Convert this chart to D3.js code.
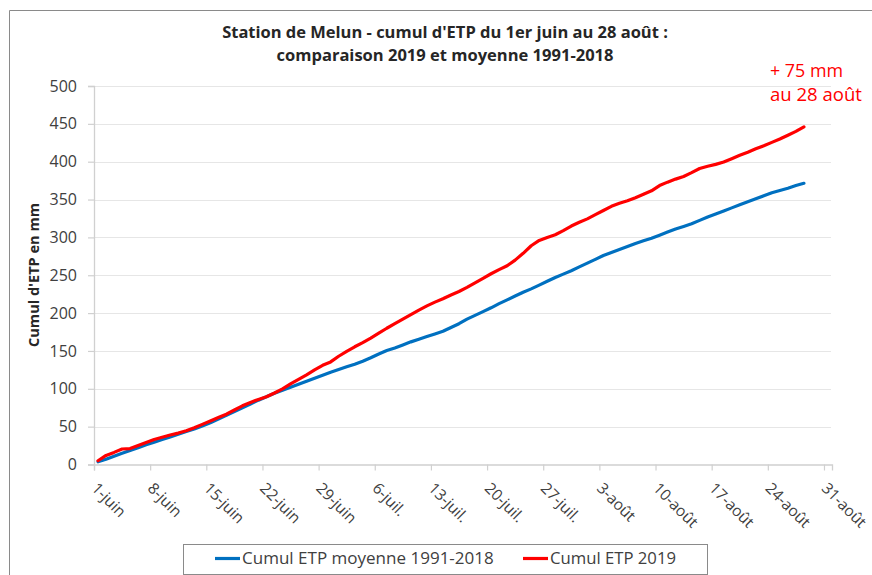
<!DOCTYPE html>
<html><head><meta charset="utf-8">
<script src="https://cdn.jsdelivr.net/npm/d3@7"></script>
<style>
body{margin:0;background:#fff}
svg{display:block}
text{font-family:"Open Sans",sans-serif}
</style>
</head><body>
<svg id="chart" width="872" height="575"></svg>
<script>
const titleLines = ["Station de Melun - cumul d'ETP du 1er juin au 28 août :", "comparaison 2019 et moyenne 1991-2018"];
const yAxisTitle = "Cumul d'ETP en mm";
const annotationLines = ["+ 75 mm", "au 28 août"];
const seriesNames = ["Cumul ETP moyenne 1991-2018", "Cumul ETP 2019"];
const startDate = Date.UTC(2019, 5, 1);
const endDate = Date.UTC(2019, 8, 1);
const yTicks = [0, 50, 100, 150, 200, 250, 300, 350, 400, 450, 500];
const xTickLabels = ["1-juin","8-juin","15-juin","22-juin","29-juin","6-juil.","13-juil.","20-juil.","27-juil.","3-août","10-août","17-août","24-août","31-août"];

// daily cumulative ETP (mm), 1 June -> 28 August
const etpMoyenne = [
  3.5, 7, 11, 15, 18.5, 22, 26, 29.5, 33, 36.5,
  40, 43.5, 47, 51, 55, 60, 65, 70, 75, 80,
  85, 89.5, 94, 98, 102, 106, 110, 114, 118, 122,
  125.5, 129, 132.5, 136.5, 141, 146, 150.5, 154, 158, 162,
  165.5, 169, 172.5, 176, 181, 186, 192, 197, 202, 207,
  212.5, 217.5, 222.5, 227.5, 232, 237, 242, 247, 251.5, 256,
  261, 266, 271, 276, 280, 284, 288, 292, 295.5, 299,
  303, 307, 311, 314.5, 318, 322.5, 327, 331, 335, 339,
  343, 347, 351, 355, 359, 362, 365, 368.5, 371.5
];
const etp2019 = [
  5, 12, 16, 20.5, 21, 25, 29, 33, 36, 39,
  41.5, 44.5, 48.5, 53, 57.5, 62, 66.5, 72, 77.5, 82,
  86, 89.5, 94.5, 100, 106.5, 112.5, 118.5, 125, 131, 135.5,
  143, 149.5, 155.5, 161, 167, 173.5, 180, 186, 192, 198,
  204, 209.5, 214.5, 219, 224, 228.5, 234, 240, 246, 252,
  257.5, 262.5, 270, 279, 289, 296, 300, 303.5, 309, 315,
  320, 324.5, 330, 335.5, 341, 345, 348.5, 352.5, 357, 361.5,
  368.5, 373, 377, 380.5, 385.5, 391, 394, 396.5, 399.5, 404,
  408.5, 412.5, 417, 421, 425.5, 430, 435, 440, 446
];

const DAY = 86400000;
const svg = d3.select("#chart");
const ink = "#404040";

function fit(sel, target) {
  const L = sel.node().getComputedTextLength();
  const fs = parseFloat(sel.attr("font-size"));
  sel.attr("font-size", (fs * target / L).toFixed(2));
  return sel;
}

// outer frame
svg.append("path").attr("d", "M9.5,575 V10.5 H872").attr("fill", "none").attr("stroke", "#8a8a8a").attr("stroke-width", 1);

const x = d3.scaleUtc().domain([new Date(startDate), new Date(endDate)]).range([94, 832]);
const y = d3.scaleLinear().domain([0, 500]).range([464.5, 86]);

// grid
svg.append("g").selectAll("line").data(yTicks.filter(v => v > 0)).join("line")
  .attr("x1", 94).attr("x2", 831).attr("y1", d => Math.round(y(d)) + 0.5).attr("y2", d => Math.round(y(d)) + 0.5)
  .attr("stroke", "#e6e6e6").attr("stroke-width", 1.2);

// y axis
const yAxis = svg.append("g").attr("transform", "translate(94,0)")
  .call(d3.axisLeft(y).tickValues(yTicks).tickSize(6).tickPadding(11));
yAxis.attr("font-size", null).attr("font-family", null);
yAxis.select(".domain").attr("stroke", "#d0d0d0").attr("stroke-width", 1.3);
yAxis.selectAll(".tick line").attr("stroke", "#d0d0d0").attr("stroke-width", 1.2);
yAxis.selectAll(".tick text").style("font-size", "16px").attr("fill", ink).style("font-family", "'Open Sans'");

// x axis
const xTickDates = xTickLabels.map((_, i) => new Date(startDate + i * 7 * DAY));
const xAxis = svg.append("g").attr("transform", "translate(0,464.5)")
  .call(d3.axisBottom(x).tickValues(xTickDates).tickSize(6).tickFormat((d, i) => xTickLabels[i]));
xAxis.attr("font-size", null).attr("font-family", null);
xAxis.select(".domain").attr("stroke", "#d0d0d0").attr("stroke-width", 1.3);
xAxis.selectAll(".tick line").attr("stroke", "#d0d0d0").attr("stroke-width", 1.2);
xAxis.selectAll(".tick text")
  .style("font-size", "15.5px").attr("fill", ink).style("font-family", "'Open Sans'")
  .attr("text-anchor", "start").attr("dy", "0.35em")
  .attr("transform", "translate(0,21) rotate(45)").attr("y", 0).attr("x", 0);

// lines
const line = d3.line().x((d, i) => x(new Date(startDate + i * DAY + DAY / 2))).y(d => y(d));
svg.append("path").datum(etpMoyenne).attr("d", line)
  .attr("fill", "none").attr("stroke", "#0070C0").attr("stroke-width", 3.2).attr("stroke-linejoin", "round").attr("stroke-linecap", "round");
svg.append("path").datum(etp2019).attr("d", line)
  .attr("fill", "none").attr("stroke", "#FF0000").attr("stroke-width", 3.2).attr("stroke-linejoin", "round").attr("stroke-linecap", "round");

// title
const t1 = svg.append("text").attr("x", 445).attr("y", 38).attr("text-anchor", "middle")
  .attr("font-weight", "bold").attr("font-size", 14).attr("fill", "#262626").text(titleLines[0]);
fit(t1, 446);
const t2 = svg.append("text").attr("x", 445).attr("y", 61).attr("text-anchor", "middle")
  .attr("font-weight", "bold").attr("font-size", 14).attr("fill", "#262626").text(titleLines[1]);
fit(t2, 337);

// y title
const yt = svg.append("text").attr("transform", "translate(39,275) rotate(-90)").attr("text-anchor", "middle")
  .attr("font-weight", "bold").attr("font-size", 13).attr("fill", "#262626").text(yAxisTitle);
fit(yt, 144);

// annotation
const a1 = svg.append("text").attr("x", 770).attr("y", 77).attr("font-size", 17).attr("fill", "#FF0000").text(annotationLines[0]);
fit(a1, 73);
const a2 = svg.append("text").attr("x", 770).attr("y", 101).attr("font-size", 17).attr("fill", "#FF0000").text(annotationLines[1]);
fit(a2, 92);

// legend
const lg = svg.append("g");
lg.append("rect").attr("x", 183.5).attr("y", 544.5).attr("width", 524).attr("height", 30)
  .attr("fill", "#fff").attr("stroke", "#8a8a8a").attr("stroke-width", 1);
const legendItems = [
  {name: seriesNames[0], color: "#0070C0", x0: 215, w: 252},
  {name: seriesNames[1], color: "#FF0000", x0: 523, w: 126}
];
legendItems.forEach(it => {
  lg.append("line").attr("x1", it.x0).attr("x2", it.x0 + 25).attr("y1", 558.5).attr("y2", 558.5)
    .attr("stroke", it.color).attr("stroke-width", 3.2);
  const tx = lg.append("text").attr("x", it.x0 + 27).attr("y", 558.5).attr("dy", "0.35em")
    .attr("font-size", 14).attr("fill", ink).text(it.name);
  fit(tx, it.w);
});
</script>
</body></html>
